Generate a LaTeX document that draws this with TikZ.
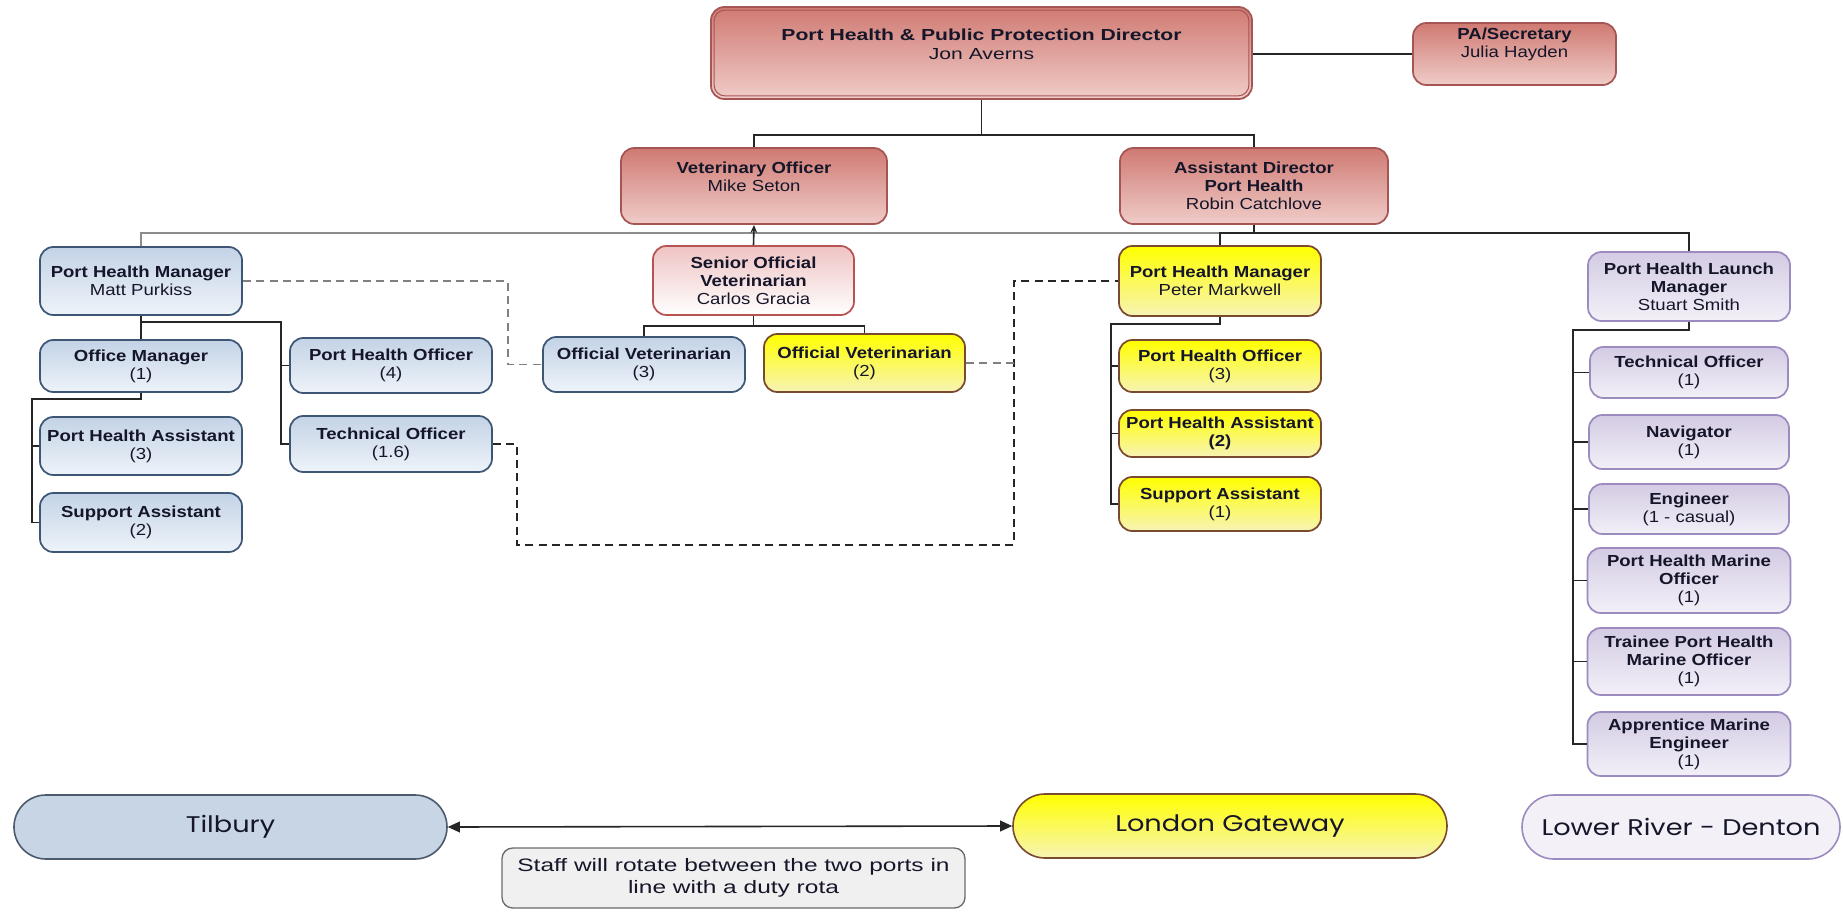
\documentclass[tikz,border=0pt]{standalone}
\usepackage{fontspec}
\setmainfont{Liberation Sans}[FakeStretch=1.16]
\newfontfamily\dirfont{Liberation Sans}[FakeStretch=1.32]
\newfontfamily\notefont{Liberation Sans}[FakeStretch=1.36]
\newfontfamily\portfont{Poppins}[FakeStretch=1.2]
\usetikzlibrary{arrows.meta,calc}
\definecolor{txt}{HTML}{16162A}
\definecolor{redB}{HTML}{A65555}
\definecolor{redT}{HTML}{CF7A72}
\definecolor{redL}{HTML}{F0CCC8}
\definecolor{pinkB}{HTML}{B75353}
\definecolor{pinkT}{HTML}{EFC3C3}
\definecolor{blueB}{HTML}{3E5675}
\definecolor{blueT}{HTML}{C3D3E6}
\definecolor{blueL}{HTML}{EEF3F9}
\definecolor{yelB}{HTML}{7A4A2E}
\definecolor{yelT}{HTML}{FFFF00}
\definecolor{yelL}{HTML}{F7F3B5}
\definecolor{purB}{HTML}{9C8BBF}
\definecolor{purT}{HTML}{D3CBE3}
\definecolor{purL}{HTML}{F3F0F8}
\definecolor{tilF}{HTML}{C8D5E5}
\definecolor{tilB}{HTML}{4C5A6E}
\definecolor{lowF}{HTML}{F3F0F7}
\definecolor{noteF}{HTML}{F0F0F0}
\definecolor{noteB}{HTML}{6B6B6B}
\begin{document}
\begin{tikzpicture}[x=0.75pt,y=-0.75pt,
  base/.style={rounded corners=10pt, line width=1.3pt, align=center, inner sep=1pt, text=txt,
    font=\fontsize{12}{13.5}\selectfont},
  sz/.style 2 args={minimum width=#1*0.75pt, minimum height=#2*0.75pt},
  redbox/.style={base, draw=redB, top color=redT, bottom color=redL},
  pinkbox/.style={base, draw=pinkB, top color=pinkT, bottom color=white},
  bluebox/.style={base, draw=blueB, top color=blueT, bottom color=blueL},
  yelbox/.style={base, draw=yelB, top color=yelT, bottom color=yelL},
  purbox/.style={base, draw=purB, top color=purT, bottom color=purL},
  tx/.style={align=center, text=txt, inner sep=0pt, font=\fontsize{12}{13.5}\selectfont},
  conn/.style={line width=1.2pt, draw=black!85},
  grayconn/.style={line width=1.2pt, draw=black!45},
  dgray/.style={line width=1.1pt, draw=black!50, dash pattern=on 6pt off 4pt},
  dblack/.style={line width=1.1pt, draw=black!85, dash pattern=on 6pt off 4pt},
  port/.style={rounded corners=24pt, line width=1.2pt, text=txt, inner sep=0pt,
    font=\portfont\fontsize{17}{20}\selectfont}
]
\fill[white] (0,0) rectangle (1843,913);
\useasboundingbox (0,0) rectangle (1843,913);

% top level
\node[redbox, sz={541}{92}] (dir) at (981.5,53) {};
\draw[redB, line width=0.8pt, rounded corners=8pt] ([shift={(4,4)}]dir.north west) rectangle ([shift={(-4,-4)}]dir.south east);
\node[tx, font=\dirfont\fontsize{12}{14}\selectfont] (dirt) at (981.5,44) {\textbf{Port Health \& Public Protection Director}\\Jon Averns};
\node[redbox, sz={203}{62}] (pa) at (1514.5,54) {};
\node[tx] (pat) at (1514.5,44) {\textbf{PA/Secretary}\\Julia Hayden};
\node[redbox, sz={266}{76}] (vet) at (754,186) {};
\node[tx] (vett) at (754,177) {\textbf{Veterinary Officer}\\Mike Seton};
\node[redbox, sz={268}{76}] (asst) at (1254,186) {\textbf{Assistant Director}\\\textbf{Port Health}\\Robin Catchlove};

% managers
\node[bluebox, sz={202}{68}] (matt) at (141,281) {\textbf{Port Health Manager}\\Matt Purkiss};
\node[pinkbox, sz={201}{69}] (sov) at (753.5,280.5) {\textbf{Senior Official}\\\textbf{Veterinarian}\\Carlos Gracia};
\node[yelbox, sz={202}{70}] (peter) at (1220,281) {\textbf{Port Health Manager}\\Peter Markwell};
\node[purbox, sz={202}{69}] (launch) at (1689,286.5) {\textbf{Port Health Launch}\\\textbf{Manager}\\Stuart Smith};

% Tilbury staff
\node[bluebox, sz={202}{52}] (om) at (141,366) {\textbf{Office Manager}\\(1)};
\node[bluebox, sz={202}{58}] (pha) at (141,446) {\textbf{Port Health Assistant}\\(3)};
\node[bluebox, sz={202}{59}] (sa) at (141,522.5) {\textbf{Support Assistant}\\(2)};
\node[bluebox, sz={202}{55}] (pho4) at (391,365.5) {\textbf{Port Health Officer}\\(4)};
\node[bluebox, sz={202}{56}] (to16) at (391,444) {\textbf{Technical Officer}\\(1.6)};

% vets
\node[bluebox, sz={202}{55}] (ov3) at (644,364.5) {\textbf{Official Veterinarian}\\(3)};
\node[yelbox, sz={201}{58}] (ov2) at (864.5,363) {\textbf{Official Veterinarian}\\(2)};

% London Gateway staff
\node[yelbox, sz={202}{52}] (pho3) at (1220,366) {\textbf{Port Health Officer}\\(3)};
\node[yelbox, sz={202}{47}] (pha2) at (1220,433.5) {\textbf{Port Health Assistant}\\\textbf{(2)}};
\node[yelbox, sz={202}{54}] (sa1) at (1220,504) {\textbf{Support Assistant}\\(1)};

% launch staff
\node[purbox, sz={198}{51}] (to1) at (1689,372.5) {\textbf{Technical Officer}\\(1)};
\node[purbox, sz={200}{54}] (nav) at (1689,442) {\textbf{Navigator}\\(1)};
\node[purbox, sz={200}{50}] (eng) at (1689,509) {\textbf{Engineer}\\(1 - casual)};
\node[purbox, sz={203}{65}] (phmo) at (1689,580.5) {\textbf{Port Health Marine}\\\textbf{Officer}\\(1)};
\node[purbox, sz={203}{67}] (trainee) at (1689,661.5) {\textbf{Trainee Port Health}\\\textbf{Marine Officer}\\(1)};
\node[purbox, sz={203}{64}] (appr) at (1689,744) {\textbf{Apprentice Marine}\\\textbf{Engineer}\\(1)};

% ports
\node[port, draw=tilB, fill=tilF, sz={433}{64}] (til) at (230.5,827) {Tilbury};
\node[port, draw=yelB, top color=yelT, bottom color=yelL, sz={434}{64}] (lon) at (1230,826) {London Gateway};
\node[port, draw=purB, fill=lowF, sz={318}{64}] (low) at (1681,827) {Lower River - Denton};
\node[base, rounded corners=8pt, draw=noteB, fill=noteF, line width=1pt, sz={463}{60},
  font=\notefont\fontsize{13.5}{16.5}\selectfont] (note) at (733.5,878)
  {Staff will rotate between the two ports in\\line with a duty rota};

% connectors
\draw[conn] (dir.east |- pa.west) -- (pa.west);
\coordinate (b1) at (981.5,135);
\draw[conn] (dir.south) -- (b1);
\draw[conn] (vet.north) |- (b1) -| (asst.north);

\coordinate (b2) at (1254,233);
\draw[grayconn] (b2) -| (matt.north);
\draw[conn] (asst.south) -- (b2);
\draw[conn] (peter.north) |- (b2) -| (launch.north);
\draw[conn, -{Stealth[length=6pt,width=5pt]}] (sov.north) -- (vet.south);

\coordinate (b3) at (753.5,326);
\draw[conn] (sov.south) -- (b3);
\draw[conn] (ov3.north) |- (b3) -| (ov2.north);

\coordinate (m1) at (141,322);
\coordinate (m2) at (281,322);
\draw[conn] (matt.south) -- (om.north);
\draw[conn] (m1) -- (m2) |- (to16.west);
\draw[conn] (m2 |- pho4.west) -- (pho4.west);

\coordinate (o1) at (32,399);
\draw[conn] (om.south) |- (o1) |- (sa.west);
\draw[conn] (o1 |- pha.west) -- (pha.west);

\coordinate (p1) at (1111,324);
\draw[conn] (peter.south) |- (p1) |- (sa1.west);
\draw[conn] (p1 |- pho3.west) -- (pho3.west);
\draw[conn] (p1 |- pha2.west) -- (pha2.west);

\coordinate (q1) at (1573,330);
\draw[conn] (launch.south) |- (q1) |- (appr.west);
\foreach \n in {to1,nav,eng,phmo,trainee}
  \draw[conn] (q1 |- \n.west) -- (\n.west);

\coordinate (d1) at (508,281);
\draw[dgray] (matt.east) -- (d1) |- (ov3.west);
\coordinate (d2) at (517,545);
\coordinate (d3) at (1014,545);
\draw[dblack] (to16.east) -| (d2) -- (d3) |- (peter.west);
\draw[dgray] (ov2.east) -- (ov2.east -| d3);

\draw[conn, {Triangle[length=9pt,width=8pt]}-{Triangle[length=9pt,width=8pt]}] (til.east) -- (lon.west);
\end{tikzpicture}
\end{document}
